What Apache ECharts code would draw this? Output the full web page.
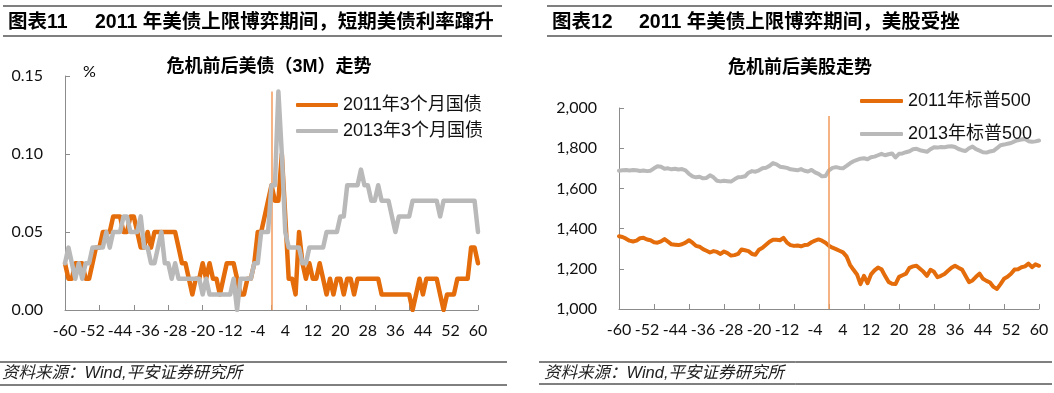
<!DOCTYPE html>
<html>
<head>
<meta charset="utf-8">
<script src="https://cdn.jsdelivr.net/npm/echarts@6/dist/echarts.min.js"></script>
<style>
html,body{margin:0;padding:0;background:#fff;}
#c{width:1054px;height:393px;}
</style>
</head>
<body>
<div id="c"></div>
<script>
// ---------- DATA ----------
const days = [];
for (let d = -60; d <= 60; d++) days.push(String(d));

const leftTitle = '危机前后美债（3M）走势';
const rightTitle = '危机前后美股走势';
const leftNames = ['2011年3个月国债', '2013年3个月国债'];
const rightNames = ['2011年标普500', '2013年标普500'];
const leftYTicks = [0, 0.05, 0.10, 0.15];
const rightYTicks = [1000, 1200, 1400, 1600, 1800, 2000];

// 3-month T-bill yield (%), days -60..60
const bill2011 = [
 0.03,0.02,0.02,0.03,0.03,0.03,0.02,0.02,0.03,0.04,
 0.04,0.05,0.05,0.05,0.06,0.06,0.06,0.05,0.05,0.06,
 0.06,0.05,0.04,0.04,0.05,0.04,0.05,0.05,0.05,0.05,
 0.05,0.05,0.05,0.04,0.03,0.03,0.02,0.01,0.02,0.02,
 0.03,0.02,0.03,0.02,0.02,0.01,0.02,0.03,0.03,0.03,
 0.02,0.01,0.01,0.02,0.02,0.03,0.05,0.05,0.06,0.07,
 0.08,
 0.07,0.07,0.10,0.06,0.02,0.02,0.01,0.05,0.03,0.02,
 0.03,0.02,0.02,0.03,0.02,0.01,0.02,0.01,0.02,0.02,
 0.01,0.02,0.02,0.01,0.02,0.02,0.02,0.02,0.02,0.02,
 0.02,0.01,0.01,0.01,0.01,0.01,0.01,0.01,0.01,0.01,
 0.00,0.01,0.02,0.01,0.02,0.02,0.02,0.02,0.01,0.00,
 0.01,0.01,0.01,0.02,0.02,0.02,0.02,0.04,0.04,0.03
];
const bill2013 = [
 0.03,0.04,0.03,0.02,0.03,0.02,0.03,0.03,0.04,0.04,
 0.04,0.04,0.05,0.04,0.05,0.05,0.05,0.06,0.06,0.05,
 0.05,0.05,0.06,0.04,0.04,0.03,0.03,0.04,0.05,0.03,
 0.03,0.02,0.03,0.02,0.02,0.02,0.02,0.02,0.02,0.02,
 0.01,0.02,0.01,0.01,0.01,0.01,0.01,0.01,0.01,0.02,
 0.00,0.02,0.02,0.02,0.02,0.03,0.03,0.05,0.05,0.05,
 0.08,
 0.08,0.14,0.10,0.05,0.04,0.04,0.04,0.04,0.03,0.03,
 0.04,0.04,0.04,0.04,0.04,0.05,0.05,0.05,0.05,0.06,
 0.06,0.08,0.08,0.08,0.08,0.09,0.08,0.08,0.07,0.07,
 0.08,0.07,0.07,0.07,0.06,0.05,0.06,0.06,0.06,0.06,
 0.07,0.07,0.07,0.07,0.07,0.07,0.07,0.07,0.06,0.07,
 0.07,0.07,0.07,0.07,0.07,0.07,0.07,0.07,0.07,0.05
];

// S&P 500, days -60..60
const spx2011 = [
 1362,1358,1350,1340,1336,1340,1352,1354,1346,1342,
 1332,1330,1336,1348,1335,1322,1320,1318,1322,1330,
 1342,1330,1314,1310,1298,1290,1281,1288,1284,1274,
 1286,1278,1266,1268,1274,1296,1292,1288,1274,1270,
 1295,1305,1320,1335,1345,1344,1342,1354,1330,1318,
 1314,1316,1312,1318,1320,1332,1340,1346,1340,1330,
 1314,
 1305,1298,1290,1282,1262,1220,1195,1172,1124,1165,
 1128,1172,1192,1206,1198,1165,1135,1126,1124,1160,
 1168,1176,1205,1212,1215,1200,1185,1165,1195,1185,
 1158,1165,1174,1190,1205,1215,1205,1196,1165,1134,
 1142,1160,1176,1150,1140,1132,1110,1100,1124,1150,
 1160,1175,1196,1198,1208,1212,1226,1208,1222,1215
];
const spx2013 = [
 1688,1690,1692,1689,1691,1690,1687,1689,1686,1688,
 1700,1710,1708,1698,1700,1695,1698,1694,1696,1690,
 1672,1660,1655,1658,1650,1652,1665,1655,1638,1635,
 1638,1636,1634,1645,1655,1657,1660,1678,1686,1683,
 1690,1700,1703,1712,1726,1720,1708,1705,1702,1695,
 1693,1690,1696,1688,1684,1692,1680,1672,1660,1662,
 1690,
 1702,1706,1702,1700,1712,1725,1735,1742,1748,1750,
 1745,1755,1758,1765,1772,1765,1770,1774,1754,1772,
 1774,1780,1785,1795,1797,1790,1786,1782,1795,1805,
 1803,1806,1805,1808,1810,1806,1796,1790,1786,1800,
 1808,1795,1788,1780,1778,1784,1787,1800,1815,1818,
 1822,1826,1834,1840,1843,1846,1835,1832,1834,1838
];

// event marker (day 0) heights
const leftMarkerTop = 0.14;
const rightMarkerTop = 1960;

// ---------- STYLE ----------
const ORANGE = '#E46C0A';
const GRAY = '#B9B9B9';
const MARK = '#F29A5A';
const AXIS = '#8C8C8C';
const NUM_FONT = 'Lato, "Open Sans", sans-serif';
const CJK_FONT = '"Liberation Sans", Arial, "Noto Sans CJK SC", sans-serif';

function xAxisCfg(gridIndex) {
  return {
    type: 'category', gridIndex, data: days, boundaryGap: false,
    axisLine: {lineStyle: {color: AXIS, width: 1}},
    axisTick: {inside: true, length: 5, interval: 9, lineStyle: {color: AXIS}},
    axisLabel: {interval: 7, margin: 13, fontSize: 16, color: '#111', fontFamily: NUM_FONT},
    splitLine: {show: false}
  };
}

const chart = echarts.init(document.getElementById('c'), null, {renderer: 'canvas'});

function txt(x, y, text, size, opts) {
  return Object.assign({
    type: 'text', x, y, silent: true,
    style: Object.assign({
      text, fontSize: size, fontFamily: CJK_FONT, fill: '#000',
      textVerticalAlign: 'middle', textAlign: 'left'
    }, opts || {})
  });
}
function ln(x1, y1, x2, y2, w) {
  return {type: 'line', silent: true, shape: {x1, y1, x2, y2}, style: {stroke: '#000', lineWidth: w || 1}};
}

const option = {
  animation: false,
  backgroundColor: '#fff',
  grid: [
    {left: 65, right: 576, top: 76, bottom: 83, containLabel: false},
    {left: 619, right: 15, top: 108, bottom: 84, containLabel: false}
  ],
  xAxis: [xAxisCfg(0), xAxisCfg(1)],
  yAxis: [
    {
      type: 'value', gridIndex: 0, min: leftYTicks[0], max: leftYTicks[leftYTicks.length - 1], interval: 0.05,
      axisLine: {show: true, lineStyle: {color: AXIS}},
      axisTick: {show: true, inside: true, length: 5, lineStyle: {color: AXIS}},
      axisLabel: {margin: 22, fontSize: 16, color: '#111', fontFamily: NUM_FONT,
        formatter: v => v.toFixed(2)},
      splitLine: {show: false}
    },
    {
      type: 'value', gridIndex: 1, min: rightYTicks[0], max: rightYTicks[rightYTicks.length - 1], interval: 200,
      axisLine: {show: true, lineStyle: {color: AXIS}},
      axisTick: {show: true, inside: true, length: 5, lineStyle: {color: AXIS}},
      axisLabel: {margin: 22, fontSize: 16, color: '#111', fontFamily: NUM_FONT,
        formatter: v => v.toLocaleString('en-US')},
      splitLine: {show: false}
    }
  ],
  legend: [
    {
      data: leftNames, orient: 'vertical', left: 291, top: 91,
      itemWidth: 42, itemHeight: 4, itemGap: 8, icon: 'roundRect',
      textStyle: {fontSize: 18, color: '#111', fontFamily: CJK_FONT}
    },
    {
      data: rightNames, orient: 'vertical', left: 855, top: 87,
      itemWidth: 43, itemHeight: 4, itemGap: 15, icon: 'roundRect',
      textStyle: {fontSize: 18, color: '#111', fontFamily: CJK_FONT}
    }
  ],
  series: [
    {
      name: leftNames[0], type: 'line', xAxisIndex: 0, yAxisIndex: 0, data: bill2011,
      symbol: 'none', color: ORANGE, z: 3,
      lineStyle: {width: 4.5, color: ORANGE, cap: 'round', join: 'round'},
      markLine: {
        silent: true, symbol: 'none', label: {show: false}, z: 1,
        lineStyle: {color: MARK, width: 1.5, type: 'solid'},
        data: [[{coord: ['0', 0]}, {coord: ['0', leftMarkerTop]}]]
      }
    },
    {
      name: leftNames[1], type: 'line', xAxisIndex: 0, yAxisIndex: 0, data: bill2013,
      symbol: 'none', color: GRAY, z: 4,
      lineStyle: {width: 4.5, color: GRAY, cap: 'round', join: 'round'}
    },
    {
      name: rightNames[0], type: 'line', xAxisIndex: 1, yAxisIndex: 1, data: spx2011,
      symbol: 'none', color: ORANGE, z: 3,
      lineStyle: {width: 4, color: ORANGE, cap: 'round', join: 'round'},
      markLine: {
        silent: true, symbol: 'none', label: {show: false},
        lineStyle: {color: MARK, width: 1.5, type: 'solid'},
        data: [[{coord: ['0', rightYTicks[0]]}, {coord: ['0', rightMarkerTop]}]]
      }
    },
    {
      name: rightNames[1], type: 'line', xAxisIndex: 1, yAxisIndex: 1, data: spx2013,
      symbol: 'none', color: GRAY, z: 3,
      lineStyle: {width: 4, color: GRAY, cap: 'round', join: 'round'}
    }
  ],
  graphic: [
    // left heading
    ln(3, 6, 502, 6, 1.2), ln(3, 36, 502, 36, 1.2),
    txt(8, 23, '图表11', 19.5, {fontWeight: 'bold'}),
    txt(95, 23, '2011 年美债上限博弈期间，短期美债利率蹿升', 19.5, {fontWeight: 'bold'}),
    // right heading
    ln(547, 6, 1052, 6, 1.2), ln(547, 36, 1052, 36, 1.2),
    txt(552, 23, '图表12', 19.5, {fontWeight: 'bold'}),
    txt(639, 23, '2011 年美债上限博弈期间，美股受挫', 19.5, {fontWeight: 'bold'}),
    // chart titles
    txt(269, 67, leftTitle, 18, {fontWeight: 'bold', textAlign: 'center'}),
    txt(800, 68, rightTitle, 18, {fontWeight: 'bold', textAlign: 'center'}),
    // unit
    txt(83, 72, '%', 16, {fontFamily: NUM_FONT}),
    // footers
    ln(0, 362, 507, 362, 1), ln(0, 385, 507, 385, 1),
    txt(2, 373, '资料来源：Wind,平安证券研究所', 16.5, {fontStyle: 'italic', fill: '#222'}),
    ln(539, 362, 1052, 362, 1), ln(539, 384, 1052, 384, 1),
    txt(544, 373, '资料来源：Wind,平安证券研究所', 16.5, {fontStyle: 'italic', fill: '#222'})
  ]
};
chart.setOption(option);
</script>
</body>
</html>
